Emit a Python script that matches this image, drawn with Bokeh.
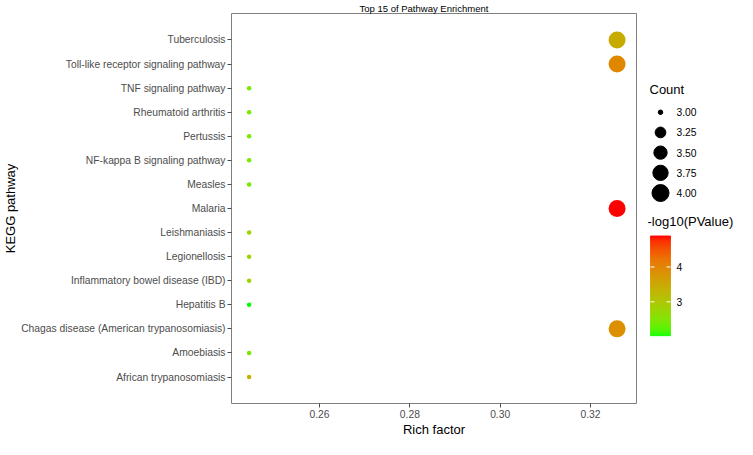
import numpy as np
from bokeh.plotting import figure
from bokeh.models import (ColumnDataSource, Range1d, FactorRange, FixedTicker,
                          LinearColorMapper, PrintfTickFormatter)
from bokeh.layouts import row
from bokeh.embed import file_html
from bokeh.resources import INLINE
from bokeh.core.properties import value

# ---------------- data ----------------
pathways = [
    "Tuberculosis",
    "Toll-like receptor signaling pathway",
    "TNF signaling pathway",
    "Rheumatoid arthritis",
    "Pertussis",
    "NF-kappa B signaling pathway",
    "Measles",
    "Malaria",
    "Leishmaniasis",
    "Legionellosis",
    "Inflammatory bowel disease (IBD)",
    "Hepatitis B",
    "Chagas disease (American trypanosomiasis)",
    "Amoebiasis",
    "African trypanosomiasis",
]
counts = [4, 4, 3, 3, 3, 3, 3, 4, 3, 3, 3, 3, 4, 3, 3]
rich_factor = [0.3259, 0.3259, 0.2444, 0.2444, 0.2444, 0.2444, 0.2444, 0.3259,
               0.2444, 0.2444, 0.2444, 0.2444, 0.3259, 0.2444, 0.2444]
neg_log10_p = [3.45, 3.97, 2.45, 2.45, 2.45, 2.45, 2.45, 4.89,
               2.80, 2.80, 2.80, 2.03, 3.86, 2.45, 3.35]
x_ticks = [0.26, 0.28, 0.30, 0.32]
size_breaks = [3.00, 3.25, 3.50, 3.75, 4.00]
color_ticks = [3, 4]

FONT = "Liberation Sans"

# ---------------- Lab gradient (green -> red) ----------------
_M = np.array([[0.4124564, 0.3575761, 0.1804375],
               [0.2126729, 0.7151522, 0.0721750],
               [0.0193339, 0.1191920, 0.9503041]])
_WHITE = np.array([0.95047, 1.0, 1.08883])


def rgb2lab(rgb):
    c = np.asarray(rgb, float) / 255.0
    lin = np.where(c <= 0.04045, c / 12.92, ((c + 0.055) / 1.055) ** 2.4)
    xyz = (_M @ lin) / _WHITE
    f = np.where(xyz > 0.008856, np.cbrt(xyz), 7.787 * xyz + 16 / 116)
    return np.array([116 * f[1] - 16, 500 * (f[0] - f[1]), 200 * (f[1] - f[2])])


def lab2hex(lab):
    L, a, b = lab
    fy = (L + 16) / 116
    f = np.array([fy + a / 500, fy, fy - b / 200])
    xyz = np.where(f ** 3 > 0.008856, f ** 3, (f - 16 / 116) / 7.787) * _WHITE
    lin = np.clip(np.linalg.inv(_M) @ xyz, 0, 1)
    c = np.where(lin <= 0.0031308, 12.92 * lin, 1.055 * lin ** (1 / 2.4) - 0.055)
    c = np.clip(c, 0, 1)
    return "#%02x%02x%02x" % tuple(int(round(v * 255)) for v in c)


lab_lo = rgb2lab((0, 255, 0))
lab_hi = rgb2lab((255, 0, 0))
palette = [lab2hex(lab_lo + t * (lab_hi - lab_lo)) for t in np.linspace(0, 1, 256)]

cmin, cmax = min(neg_log10_p), max(neg_log10_p)
mapper = LinearColorMapper(palette=palette, low=cmin, high=cmax)

smin, smax = min(counts), max(counts)


def size_of(v):
    t = (np.asarray(v, float) - smin) / (smax - smin)
    return 4.5 + 12.5 * np.sqrt(t)


# ---------------- layout constants ----------------
H = 439
W_MAIN = 638
W_LEG = 737 - W_MAIN
B_TOP = 12
B_BOTTOM = 36
FRAME_H = H - B_TOP - B_BOTTOM

# ---------------- main plot ----------------
src = ColumnDataSource(dict(
    pathway=pathways, rich=rich_factor, nlp=neg_log10_p,
    count=counts, size=size_of(counts)))

p = figure(width=W_MAIN, height=H, output_backend="svg", toolbar_location=None,
           x_range=Range1d(0.2405, 0.3302),
           y_range=FactorRange(factors=list(reversed(pathways)),
                               range_padding=0.6, range_padding_units="absolute"),
           title="Top 15 of Pathway Enrichment")
p.scatter(x="rich", y="pathway", size="size", source=src,
          fill_color={"field": "nlp", "transform": mapper}, line_color=None)

p.title.align = "left"
p.title.offset = 128
p.title.text_font = FONT
p.title.text_font_size = "9.5px"
p.title.text_font_style = "normal"
p.title.text_color = "black"
p.title.standoff = 0

p.xgrid.visible = False
p.ygrid.visible = False
p.outline_line_color = "#7f7f7f"
p.outline_line_width = 1
p.background_fill_color = "white"
p.border_fill_color = "white"
p.min_border_top = B_TOP
p.min_border_bottom = B_BOTTOM
p.min_border_right = 2
p.min_border_left = 0

for ax in (p.xaxis[0], p.yaxis[0]):
    ax.axis_line_color = None
    ax.major_tick_line_color = "#4d4d4d"
    ax.major_tick_out = 4
    ax.major_tick_in = 0
    ax.minor_tick_line_color = None
    ax.major_label_text_font = FONT
    ax.major_label_text_font_size = "10.3px"
    ax.major_label_text_color = "#4d4d4d"
    ax.major_label_standoff = 2
    ax.axis_label_text_font = FONT
    ax.axis_label_text_font_size = "13px"
    ax.axis_label_text_font_style = "normal"
    ax.axis_label_text_color = "black"
    ax.axis_label_standoff = 1
p.yaxis.axis_label_standoff = 0

p.xaxis.axis_label = "Rich factor"
p.yaxis.axis_label = "KEGG pathway"
p.xaxis.ticker = FixedTicker(ticks=x_ticks)
p.xaxis.formatter = PrintfTickFormatter(format="%.2f")

# ---------------- legend panel (frame aligned with main frame; y in px from frame top) ----------------
lg = figure(width=W_LEG, height=H, output_backend="svg", toolbar_location=None,
            x_range=Range1d(0, W_LEG), y_range=Range1d(FRAME_H, 0),
            x_axis_location=None, y_axis_location=None, min_border=0)
lg.min_border_top = B_TOP
lg.min_border_bottom = B_BOTTOM
lg.xgrid.visible = False
lg.ygrid.visible = False
lg.outline_line_color = None
lg.border_fill_color = "white"

count_title_y = 76
first_y = 99
step_y = 20.25
dot_x = 22
lab_x = 38
ys = [first_y + i * step_y for i in range(len(size_breaks))]
lg.text(x=[11], y=[count_title_y], text=["Count"], text_font=value(FONT),
        text_font_size=value("13px"), text_baseline="middle", text_align="left",
        text_color="black")
lg.scatter(x=[dot_x] * len(size_breaks), y=ys, size=size_of(size_breaks),
           color="black")
lg.text(x=[lab_x] * len(size_breaks), y=ys, text=["%.2f" % b for b in size_breaks],
        text_font=value(FONT), text_font_size=value("10.3px"),
        text_baseline="middle", text_align="left", text_color="black")

cb_title_y = 209
cb_left, cb_right = 12, 32
cb_top, cb_bottom = 223, 323
lg.text(x=[9], y=[cb_title_y], text=["-log10(PValue)"], text_font=value(FONT),
        text_font_size=value("13px"), text_baseline="middle", text_align="left",
        text_color="black")
n = 100
vals = np.linspace(cmin, cmax, n + 1)
edges = cb_bottom - (vals - cmin) / (cmax - cmin) * (cb_bottom - cb_top)
mids = (vals[:-1] + vals[1:]) / 2
bar_colors = [palette[min(255, int((m - cmin) / (cmax - cmin) * 256))] for m in mids]
lg.quad(left=cb_left, right=cb_right, bottom=edges[:-1], top=edges[1:],
        fill_color=bar_colors, line_color=bar_colors, line_width=0.8)
tick_y = [cb_bottom - (t - cmin) / (cmax - cmin) * (cb_bottom - cb_top) for t in color_ticks]
w = (cb_right - cb_left) / 5
lg.segment(x0=[cb_left] * len(tick_y), x1=[cb_left + w] * len(tick_y), y0=tick_y, y1=tick_y,
           line_color="white", line_width=1)
lg.segment(x0=[cb_right - w] * len(tick_y), x1=[cb_right] * len(tick_y), y0=tick_y, y1=tick_y,
           line_color="white", line_width=1)
lg.text(x=[lab_x] * len(tick_y), y=tick_y, text=[str(t) for t in color_ticks],
        text_font=value(FONT), text_font_size=value("10.3px"),
        text_baseline="middle", text_align="left", text_color="black")

layout = row(p, lg)
open("out.html", "w").write(file_html(layout, INLINE))
